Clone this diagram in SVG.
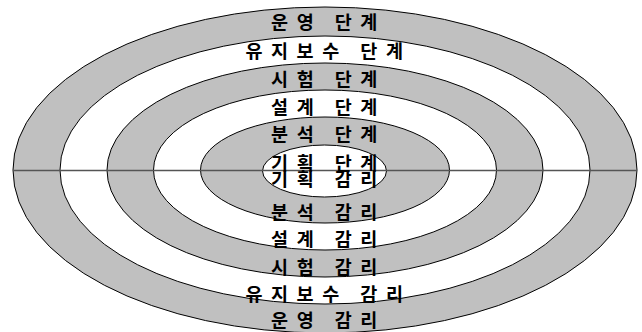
<svg xmlns="http://www.w3.org/2000/svg" width="642" height="332" viewBox="0 0 642 332">
<style>
.g{fill:#c0c0c0;stroke:#000;stroke-width:1}
.w{fill:#fff;stroke:#000;stroke-width:1}
.t{font-family:"Noto Sans CJK KR","Noto Sans",sans-serif;font-size:18.5px;font-weight:700;letter-spacing:8.5px;fill:#000;text-anchor:middle;dominant-baseline:central}
.ax{stroke:#555;stroke-width:1.5;fill:none}
</style>
<rect width="642" height="332" fill="#fff"/>
<g id="ring-operation"><ellipse class="g" cx="325" cy="170" rx="312" ry="163"/></g>
<g id="ring-maintenance"><ellipse class="w" cx="325" cy="170" rx="265" ry="134"/></g>
<g id="ring-test"><ellipse class="g" cx="325" cy="170" rx="218" ry="107"/></g>
<g id="ring-design"><ellipse class="w" cx="325" cy="170" rx="171.5" ry="80"/></g>
<g id="ring-analysis"><ellipse class="g" cx="325" cy="170" rx="124.5" ry="53"/></g>
<g id="ring-planning"><ellipse class="w" cx="324.5" cy="171" rx="62" ry="26"/></g>
<g id="connectors"><line class="ax" x1="13" y1="170.5" x2="637" y2="170.5"/></g>
<g id="labels">
<text class="t" x="328.5" y="21">운영 단계</text>
<text class="t" x="328.5" y="49.5">유지보수 단계</text>
<text class="t" x="328.5" y="78">시험 단계</text>
<text class="t" x="328.5" y="106">설계 단계</text>
<text class="t" x="328.5" y="133">분석 단계</text>
<text class="t" x="328.5" y="162">기획 단계</text>
<text class="t" x="328.5" y="178">기획 감리</text>
<text class="t" x="328.5" y="211">분석 감리</text>
<text class="t" x="328.5" y="238">설계 감리</text>
<text class="t" x="328.5" y="266">시험 감리</text>
<text class="t" x="328.5" y="293">유지보수 감리</text>
<text class="t" x="328.5" y="319">운영 감리</text>
</g>
</svg>
